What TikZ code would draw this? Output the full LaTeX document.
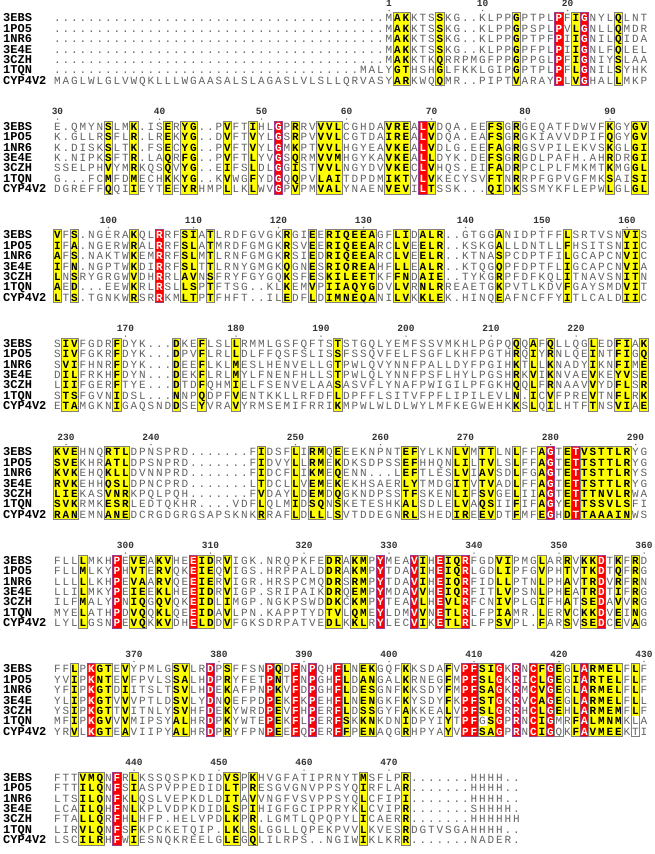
\documentclass[tikz,border=0pt]{standalone}
\usepackage{fontspec}
\setmonofont{Liberation Mono}
\usepackage{tikz}
\usetikzlibrary{positioning}
\definecolor{simyellow}{HTML}{FFFF00}
\definecolor{idred}{HTML}{FF0000}
\definecolor{simframe}{HTML}{808080}
\definecolor{idframe}{HTML}{9B3C8C}
\definecolor{resgray}{HTML}{626262}

% geometry: block top (pt, y downwards)
\newcommand\blocky[1]{3+108.5*#1}
\newcount\rescol

% framed columns of a block: start/end/kind (y = similar, r = identical)
\newcommand\setruns[2]{%
  \expandafter\gdef\csname runs@#1\endcsname{#2}%
  \foreach \ra/\rb/\rk in {#2}{%
    \foreach \rc in {\ra,...,\rb}{%
      \expandafter\xdef\csname mk@#1@\rc\endcsname{\rk}}}}

\newcommand\drawruns[1]{%
  \pgfmathsetmacro\ftop{\blocky{#1}+15-5.2}%
  \pgfmathsetmacro\fbot{\blocky{#1}+15+62.4+5.2}%
  \edef\runlist{\csname runs@#1\endcsname}%
  \foreach \ra/\rb/\rk in \runlist{%
    \if r\rk
      \draw[idbox] (49+8.5*\ra-4.25,\ftop) rectangle (49+8.5*\rb+4.25,\fbot);
    \else
      \draw[simbox] (49+8.5*\ra-4.25,\ftop) rectangle (49+8.5*\rb+4.25,\fbot);
    \fi}}

% numbering above a block: column/number
\newcommand\poslabels[2]{%
  \pgfmathsetmacro\ptop{\blocky{#1}}%
  \pgfmathsetmacro\ptick{\blocky{#1}+7.5}%
  \foreach \pc/\pn in {#2}{%
    \node[posnum] (num-#1-\pn) at (49+8.5*\pc,\ptop) {\pn};
    \fill[resgray] (49+8.5*\pc,\ptick) circle (0.75);}}

% one residue
\newcommand\putres[1]{%
  \pgfmathsetmacro\cx{49+8.5*\the\rescol}%
  \edef\ck{\ifcsname mk@\curblk @\the\rescol\endcsname\csname mk@\curblk @\the\rescol\endcsname\else n\fi}%
  \ifx#1.\def\ck{n}\fi
  \ifnum`#1>96 \def\ck{n}\fi
  \if y\ck
    \fill[simyellow] (\cx-4.25,\rowy-5.3) rectangle (\cx+4.25,\rowy+5.3);
    \node[ressim] at (\cx,\rowy+3.8) {#1};
  \else\if r\ck
    \fill[idred] (\cx-4.25,\rowy-5.3) rectangle (\cx+4.25,\rowy+5.3);
    \node[resid] at (\cx,\rowy+3.8) {#1};
  \else
    \node[res] at (\cx,\rowy+3.8) {\uppercase{#1}};
  \fi\fi}
\def\readres#1{\ifx#1\relax\else\advance\rescol by 1\relax\putres#1\expandafter\readres\fi}

% [leading gaps]{block}{row}{name}{residues}
\newcommand\seqrow[5][0]{%
  \pgfmathsetmacro\rowy{\blocky{#2}+15+10.4*(#3-1)}%
  \edef\curblk{#2}%
  \node[seqname] (name-#2-#3) at (3,\rowy+3.8) {#4};
  \rescol=0
  \ifnum#1>0
    \foreach \g in {1,...,#1}{\node[res] at (49+8.5*\g,\rowy+3.8) {.};}%
    \rescol=#1\relax
  \fi
  \readres#5\relax}

\begin{document}
\begin{tikzpicture}[
    x=1pt, y=-1pt,
    seqname/.style={anchor=base west, inner sep=0pt, font=\ttfamily\bfseries\fontsize{12}{12}\selectfont, text=black},
    res/.style={anchor=base, inner sep=0pt, font=\ttfamily\fontsize{11}{11}\selectfont, text=resgray},
    ressim/.style={res, font=\ttfamily\bfseries\fontsize{11}{11}\selectfont, text=black},
    resid/.style={res, font=\ttfamily\bfseries\fontsize{11}{11}\selectfont, text=white},
    posnum/.style={inner sep=0pt, font=\ttfamily\bfseries\fontsize{9.5}{10}\selectfont, text=black!80},
    simbox/.style={draw=simframe, line width=0.8pt},
    idbox/.style={draw=idframe, line width=0.8pt}
]
\fill[white] (0,0) rectangle (654,854);
\useasboundingbox (0,0) rectangle (654,854);

% Block 1
\setruns{0}{41/42/y, 46/46/y, 55/55/y, 60/60/r, 62/62/y, 63/63/r, 67/67/y}
\poslabels{0}{40/1, 51/10, 61/20}
\seqrow[39]{0}{1}{3EBS}{MAKKTSSKG..KLPPGPTPLPFIGNYLQLNT}
\seqrow[39]{0}{2}{1PO5}{MAKKTSSKG..KLPPGPSPLPVLGNLLQMDR}
\seqrow[39]{0}{3}{1NR6}{MAKKTSSKG..KLPPGPTPFPIIGNILQIDA}
\seqrow[39]{0}{4}{3E4E}{MAKKTSSKG..KLPPGPFPLPIIGNLFQLEL}
\seqrow[39]{0}{5}{3CZH}{MAKKTKQRRPMGFPPGPPGLPFIGNIYSLAA}
\seqrow[36]{0}{6}{1TQN}{MALYGTHSHGLFKKLGIPGPTPLPFLGNILSYHK}
\seqrow{0}{7}{CYP4V2}{MAGLWLGLVWQKLLLWGAASALSLAGASLVLSLLQRVASYARKWQQMR..PIPTVARAYPLVGHALLMKP}
\drawruns{0}

% Block 2
\setruns{1}{7/7/y, 10/10/y, 14/14/y, 16/17/y, 21/21/y, 24/24/y, 27/27/r, 29/29/y, 32/34/y, 40/42/y, 44/44/r, 45/45/y, 52/53/y, 55/55/y, 66/66/y, 69/70/y}
\poslabels{1}{1/30, 13/40, 25/50, 35/60, 45/70, 56/80, 66/90}
\seqrow{1}{1}{3EBS}{E.QMYNSLMK.ISERYG..PVFTIHLGPRRVVVLCGHDAVREALVDQA.EEFSGRGEQATFDWVFKGYGV}
\seqrow{1}{2}{1PO5}{K.GLLRSFLR.LREKYG..DVFTVYLGSRPVVVLCGTDAIREALVDQA.EAFSGRGKIAVVDPIFQGYGV}
\seqrow{1}{3}{1NR6}{K.DISKSLTK.FSECYG..PVFTVYLGMKPTVVLHGYEAVKEALVDLG.EEFAGRGSVPILEKVSKGLGI}
\seqrow{1}{4}{3E4E}{K.NIPKSFTR.LAQRFG..PVFTLYVGSQRMVVMHGYKAVKEALLDYK.DEFSGRGDLPAFH.AHRDRGI}
\seqrow{1}{5}{3CZH}{SSELPHVYMRKQSQVYG..EIFSLDLGGISTVVLNGYDVVKECLVHQS.EIFADRPCLPLFMKMTKMGGL}
\seqrow{1}{6}{1TQN}{G...FCMFDMECHKKYG..KVWGFYDGQQPVLAITDPDMIKTVLVKECYSVFTNRRPFGPVGFMKSAISI}
\seqrow{1}{7}{CYP4V2}{DGREFFQQIIEYTEEYRHMPLLKLWVGPVPMVALYNAENVEVILTSSK...QIDKSSMYKFLEPWLGLGL}
\drawruns{1}

% Block 3
\setruns{2}{1/1/y, 3/3/y, 10/10/y, 13/13/r, 16/17/y, 19/19/y, 28/28/y, 31/31/y, 33/38/y, 41/42/y, 44/46/y, 53/53/y, 61/61/y, 68/69/y}
\poslabels{2}{7/100, 17/110, 27/120, 37/130, 49/140, 58/150, 68/160}
\seqrow{2}{1}{3EBS}{VFS.NGERAKQLRRFSIATLRDFGVGKRGIEERIQEEAGFLIDALR..GTGGANIDPTFFLSRTVSNVIS}
\seqrow{2}{2}{1PO5}{IFA.NGERWRALRRFSLATMRDFGMGKRSVEERIQEEARCLVEELR..KSKGALLDNTLLFHSITSNIIC}
\seqrow{2}{3}{1NR6}{AFS.NAKTWKEMRRFSLMTLRNFGMGKRSIEDRIQEEARCLVEELR..KTNASPCDPTFILGCAPCNVIC}
\seqrow{2}{4}{3E4E}{IFN.NGPTWKDIRRFSLTTLRNYGMGKQGNESRIQREAHFLLEALR..KTQGQPFDPTFLIGCAPCNVIA}
\seqrow{2}{5}{3CZH}{LNSRYGRGWVDHRRLAVNSFRYFGYGQKSFESKILEETKFFNDAIE..TYKGRPFDFKQLITNAVSNITN}
\seqrow{2}{6}{1TQN}{AED...EEWKRLRSLLSPTFTSG..KLKEMVPIIAQYGDVLVRNLRREAETGKPVTLKDVFGAYSMDVIT}
\seqrow{2}{7}{CYP4V2}{LTS.TGNKWRSRRKMLTPTFHFT..ILEDFLDIMNEQANILVKKLEK.HINQEAFNCFFYITLCALDIIC}
\drawruns{2}

% Block 4
\setruns{3}{2/3/y, 8/8/y, 15/15/y, 18/18/y, 22/22/y, 34/34/y, 55/55/y, 57/57/y, 59/59/y, 64/64/y, 67/68/y, 70/70/y}
\poslabels{3}{9/170, 22/180, 32/190, 42/200, 52/210, 62/220}
\seqrow{3}{1}{3EBS}{SIVFGDRFDYK...DKEFLSLLRMMLGSFQFTSTSTGQLYEMFSSVMKHLPGPQQQAFQLLQGLEDFIAK}
\seqrow{3}{2}{1PO5}{SIVFGKRFDYK...DPVFLRLLDLFFQSFSLISSFSSQVFELFSGFLKHFPGTHRQIYRNLQEINTFIGQ}
\seqrow{3}{3}{1NR6}{SVIFHNRFDYK...DEEFLKLMESLHENVELLGTPWLQVYNNFPALLDYFPGIHKTLLKNADYIKNFIME}
\seqrow{3}{4}{3E4E}{DILFRKHFDYN...DEKFLRLMYLFNENFHLLSTPWLQLYNNFPSFLHYLPGSHRKVIKNVAEVKEYVSE}
\seqrow{3}{5}{3CZH}{LIIFGERFTYE...DTDFQHMIELFSENVELAASASVFLYNAFPWIGILPFGKHQQLFRNAAVVYDFLSR}
\seqrow{3}{6}{1TQN}{STSFGVNIDSL...NNPQDPFVENTKKLLRFDFLDPFFLSITVFPFLIPILEVLN.ICVFPREVTNFLRK}
\seqrow{3}{7}{CYP4V2}{ETAMGKNIGAQSNDDSEYVRAVYRMSEMIFRRIKMPWLWLDLWYLMFKEGWEHKKSLQILHTFTNSVIAE}
\drawruns{3}

% Block 5
\setruns{4}{1/3/y, 7/9/y, 25/25/y, 29/29/y, 31/32/y, 34/34/y, 42/43/y, 48/49/y, 51/52/y, 55/55/y, 58/58/y, 59/59/r, 61/61/y, 62/62/r, 63/68/y}
\poslabels{4}{2/230, 12/240, 29/250, 39/260, 49/270, 59/280, 69/290}
\seqrow{4}{1}{3EBS}{KVEHNQRTLDPNSPRD.......FIDSFLIRMQEEEKNPNTEFYLKNLVMTTLNLFFAGTETVSTTLRYG}
\seqrow{4}{2}{1PO5}{SVEKHRATLDPSNPRD.......FIDVYLLRMEKDKSDPSSEFHHQNLILTVLSLFFAGTETTSTTLRYG}
\seqrow{4}{3}{1NR6}{KVKEHQKLLDVNNPRD.......FIDCFLIKMEQENN...LEFTLESLVIAVSDLFGAGTETTSTTLRYS}
\seqrow{4}{4}{3E4E}{RVKEHHQSLDPNCPRD.......LTDCLLVEMEKEKHSAERLYTMDGITVTVADLFFAGTETTSTTLRYG}
\seqrow{4}{5}{3CZH}{LIEKASVNRKPQLPQH.......FVDAYLDEMDQGKNDPSSTFSKENLIFSVGELIIAGTETTTNVLRWA}
\seqrow{4}{6}{1TQN}{SVKRMKESRLEDTQKHR....VDFLQLMIDSQNSKETESHKALSDLELVAQSIIFIFAGYETTSSVLSFI}
\seqrow{4}{7}{CYP4V2}{RANEMNANEDCRGDGRGSAPSKNKRRAFLDLLLSVTDDEGNRLSHEDIREEVDTFMFEGHDTTAAAINWS}
\drawruns{4}

% Block 6
\setruns{5}{4/4/y, 8/8/r, 10/11/y, 13/14/y, 17/17/r, 18/19/y, 21/21/y, 33/34/y, 36/37/y, 39/39/r, 43/43/r, 44/44/y, 46/46/r, 47/48/y, 49/49/r, 53/54/y, 58/58/y, 61/61/y, 63/64/y, 65/65/r, 67/67/y, 69/69/y}
\poslabels{5}{9/300, 19/310, 30/320, 40/330, 50/340, 60/350, 70/360}
\seqrow{5}{1}{3EBS}{FLLLMKHPEVEAKVHEEIDRVIGK.NRQPKFEDRAKMPYMEAVIHEIQRFGDVIPMGLARRVKKDTKFRD}
\seqrow{5}{2}{1PO5}{FLLMLKYPHVTERVQKEIEQVIGS.HRPPALDDRAKMPYTDAVIHEIQRLGDLIPFGVPHTVTKDTQFRG}
\seqrow{5}{3}{1NR6}{LLLLLKHPEVAARVQEEIERVIGR.HRSPCMQDRSRMPYTDAVIHEIQRFIDLLPTNLPHAVTRDVRFRN}
\seqrow{5}{4}{3E4E}{LLILMKYPEIEEKLHEEIDRVIGP.SRIPAIKDRQEMPYMDAVVHEIQRFITLVPSNLPHEATRDTIFRG}
\seqrow{5}{5}{3CZH}{ILFMALYPNIQGQVQKEIDLIMGP.NGKPSWDDKCKMPYTEAVLHEVLRFCNIVPLGIFHATSEDAVVRG}
\seqrow{5}{6}{1TQN}{MYELATHPDVQQKLQEEIDAVLPN.KAPPTYDTVLQMEYLDMVVNETLRLFPIAMR.LERVCKKDVEING}
\seqrow{5}{7}{CYP4V2}{LYLLGSNPEVQKKVDHELDDVFGKSDRPATVEDLKKLRYLECVIKETLRLFPSVPL.FARSVSEDCEVAG}
\drawruns{5}

% Block 7
\setruns{6}{3/3/y, 5/5/r, 6/7/y, 9/9/y, 15/16/y, 19/19/r, 21/21/y, 26/26/r, 27/27/y, 29/29/r, 31/31/r, 34/34/r, 35/35/y, 37/38/y, 42/42/y, 47/47/y, 49/50/r, 51/52/y, 53/53/r, 55/55/r, 57/57/r, 58/58/y, 59/59/r, 60/60/y, 62/62/y, 63/63/r, 64/67/y, 69/69/y}
\poslabels{6}{10/370, 20/380, 30/390, 40/400, 50/410, 60/420, 70/430}
\seqrow{6}{1}{3EBS}{FFLPKGTEVYPMLGSVLRDPSFFSNPQDFNPQHFLNEKGQFKKSDAFVPFSIGKRNCFGEGLARMELFLF}
\seqrow{6}{2}{1PO5}{YVIPKNTEVFPVLSSALHDPRYFETPNTFNPGHFLDANGALKRNEGFMPFSLGKRICLGEGIARTELFLF}
\seqrow{6}{3}{1NR6}{YFIPKGTDIITSLTSVLHDEKAFPNPKVFDPGHFLDESGNFKKSDYFMPFSAGKRMCVGEGLARMELFLF}
\seqrow{6}{4}{3E4E}{YLIPKGTVVVPTLDSVLYDNQEFPDPEKFKPEHFLNENGKFKYSDYFKPFSTGKRVCAGEGLARMELFLL}
\seqrow{6}{5}{3CZH}{YSIPKGTTVITNLYSVHFDEKYWRDPEVFHPERFLDSSGYFAKKEALVPFSLGRRHCLGEHLARMEMFLF}
\seqrow{6}{6}{1TQN}{MFIPKGVVVMIPSYALHRDPKYWTEPEKFLPERFSKKNKDNIDPYIYTPFgSGPRNCIGmRFALMNMKlA}
\seqrow{6}{7}{CYP4V2}{YRVLKGTEAVIIPYALHRDPRYFPNPEEFQPERFFPENAQGRHPYAYVPFSAGPRNCIGqKFAVMEEKtI}
\drawruns{6}

% Block 8
\setruns{7}{4/6/y, 8/8/r, 10/10/y, 21/22/y, 24/24/y, 37/37/y, 42/42/y}
\poslabels{7}{10/440, 20/450, 30/460, 40/470}
\seqrow{7}{1}{3EBS}{FTTVMQNFRLKSSQSPKDIDVSPKHVGFATIPRNYTMSFLPR.......HHHH..}
\seqrow{7}{2}{1PO5}{FTTILQNFSIASPVPPEDIDLTPRESGVGNVPPSYQIRFLAR.......HHHH..}
\seqrow{7}{3}{1NR6}{LTSILQNFKLQSLVEPKDLDITAVVNGFVSVPPSYQLCFIPI.......HHHH..}
\seqrow{7}{4}{3E4E}{LCAILQHFNLKPLVDPKDIDLSPIHIGFGCIPPRYKLCVIPR.......SHHHH.}
\seqrow{7}{5}{3CZH}{FTALLQRFHLHFP.HELVPDLKPR.LGMTLQPQPYLICAERR.......HHHHHH}
\seqrow{7}{6}{1TQN}{LIRVLQNFSFKPCKETQIP.LKLSLGGLLQPEKPVVLKVESRDGTVSGAHHHH..}
\seqrow{7}{7}{CYP4V2}{LSCILRHFWIESNQKREELGLEGQLILRPS..NGIWIKLKRR.......NADER.}
\drawruns{7}

\end{tikzpicture}
\end{document}
